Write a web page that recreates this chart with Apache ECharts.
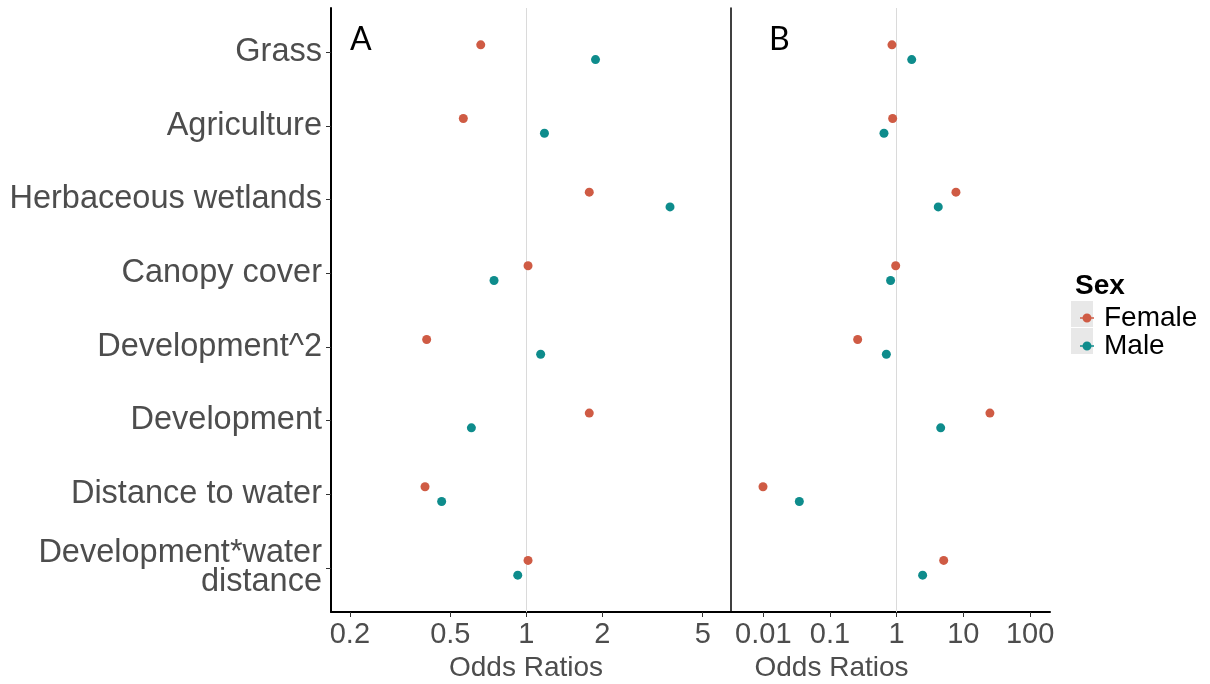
<!DOCTYPE html>
<html>
<head>
<meta charset="utf-8">
<script src="https://cdn.jsdelivr.net/npm/echarts@6/dist/echarts.min.js"></script>
<style>
html,body{margin:0;padding:0;background:#fff;}
#chart{width:1210px;height:684px;}
</style>
</head>
<body>
<div id="chart"></div>
<script>
// ---- data ----
const categories = [
  'Grass', 'Agriculture', 'Herbaceous wetlands', 'Canopy cover',
  'Development^2', 'Development', 'Distance to water', 'Development*water\ndistance'
];
const femaleA = [0.66, 0.563, 1.776, 1.016, 0.403, 1.776, 0.397, 1.016];
const maleA   = [1.88, 1.18, 3.71, 0.745, 1.14, 0.606, 0.462, 0.925];
const femaleB = [0.85, 0.87, 7.74, 0.966, 0.26, 25.0, 0.0099, 5.07];
const maleB   = [1.68, 0.645, 4.2, 0.81, 0.70, 4.57, 0.0347, 2.45];
const xTicksA = [0.2, 0.5, 1, 2, 5];
const xTicksB = [0.01, 0.1, 1, 10, 100];
const seriesNames = ['Female', 'Male'];
const axisTitle = 'Odds Ratios';
const panelLabels = ['A', 'B'];
const legendTitle = 'Sex';

// ---- styling ----
const FEMALE = '#CF5B44';
const MALE = '#0E8C8C';
const GREY = '#4d4d4d';
const FONT = "'Liberation Sans', Arial, sans-serif";
const DODGE = 0.1;
const yIdx = categories.map((c, i) => i);

const chart = echarts.init(document.getElementById('chart'), null, {renderer: 'canvas'});

function xAxisFor(gridIndex, min, max, ticks, namePad) {
  return {
    type: 'log', gridIndex, min, max, logBase: 10,
    axisLine: {show: true, onZero: false, lineStyle: {color: '#000', width: 2}},
    axisTick: {show: true, customValues: ticks, length: 5, lineStyle: {color: '#333', width: 1}},
    axisLabel: {customValues: ticks, formatter: v => String(v), fontSize: 29, color: GREY, fontFamily: FONT, margin: 8},
    splitLine: {show: false},
    name: axisTitle, nameLocation: 'middle', nameGap: 42,
    nameTextStyle: {fontSize: 28, color: GREY, fontFamily: FONT, padding: namePad}
  };
}

function yAxisFor(gridIndex, showLabels) {
  return {
    type: 'value', gridIndex, min: -0.6, max: 7.6, inverse: true,
    axisLine: {show: true, onZero: false, lineStyle: {color: '#000', width: showLabels ? 2 : 1.5}},
    axisTick: {show: showLabels, customValues: yIdx, length: 5, lineStyle: {color: '#333'}},
    axisLabel: {
      show: showLabels, customValues: yIdx,
      formatter: v => categories[Math.round(v)],
      fontSize: 32.5, color: GREY, fontFamily: FONT, margin: 9, lineHeight: 29, align: 'right'
    },
    splitLine: {show: false}
  };
}

function oneLine() {
  return {
    silent: true, symbol: 'none', label: {show: false},
    lineStyle: {color: '#dadada', width: 1, type: 'solid'},
    data: [{xAxis: 1}]
  };
}

function scatter(name, vals, sign, idx, color, withLine) {
  const s = {
    name, type: 'scatter', xAxisIndex: idx, yAxisIndex: idx,
    symbolSize: 9, itemStyle: {color, opacity: 1},
    data: vals.map((v, i) => [v, i + sign * DODGE]),
    z: 5
  };
  if (withLine) s.markLine = oneLine();
  return s;
}

const keyIcon = 'path://M0,3.8H14V5.2H0Z M2.5,4.5A4.5,4.5 0 1,1 11.5,4.5A4.5,4.5 0 1,1 2.5,4.5Z';

chart.setOption({
  backgroundColor: '#fff',
  animation: false,
  textStyle: {fontFamily: FONT},
  title: [
    {text: panelLabels[0], left: 345, top: 19, textStyle: {fontSize: 32, fontWeight: 'normal', color: '#000', fontFamily: "Lato, 'Liberation Sans', sans-serif"}},
    {text: panelLabels[1], left: 764, top: 19, textStyle: {fontSize: 32, fontWeight: 'normal', color: '#000', fontFamily: "Lato, 'Liberation Sans', sans-serif"}},
    {text: legendTitle, left: 1070, top: 267, textStyle: {fontSize: 28, fontWeight: 'bold', color: '#000', fontFamily: FONT}}
  ],
  graphic: [
    {type: 'rect', left: 1071, top: 301, shape: {width: 22, height: 26}, style: {fill: '#e8e8e8'}, silent: true, z: 0},
    {type: 'rect', left: 1071, top: 328, shape: {width: 22, height: 26}, style: {fill: '#e8e8e8'}, silent: true, z: 0}
  ],
  legend: {
    orient: 'vertical', left: 1075, top: 299,
    data: seriesNames.map(n => ({name: n, icon: keyIcon})),
    itemWidth: 14, itemHeight: 9, itemGap: 0, selectedMode: false,
    textStyle: {fontSize: 28, color: '#000', fontFamily: FONT, lineHeight: 26, padding: [0, 0, 0, 5]},
    z: 10
  },
  grid: [
    {left: 331, top: 8, width: 400, height: 604, outerBoundsMode: 'none', containLabel: false},
    {left: 731, top: 8, width: 319, height: 604, outerBoundsMode: 'none', containLabel: false}
  ],
  xAxis: [
    xAxisFor(0, 0.1684, 6.47, xTicksA, [0, 10, 0, 0]),
    xAxisFor(1, 0.00328, 199, xTicksB, [0, 118, 0, 0])
  ],
  yAxis: [yAxisFor(0, true), yAxisFor(1, false)],
  series: [
    scatter(seriesNames[0], femaleA, -1, 0, FEMALE, true),
    scatter(seriesNames[1], maleA, 1, 0, MALE, false),
    scatter(seriesNames[0], femaleB, -1, 1, FEMALE, true),
    scatter(seriesNames[1], maleB, 1, 1, MALE, false)
  ]
});
</script>
</body>
</html>
